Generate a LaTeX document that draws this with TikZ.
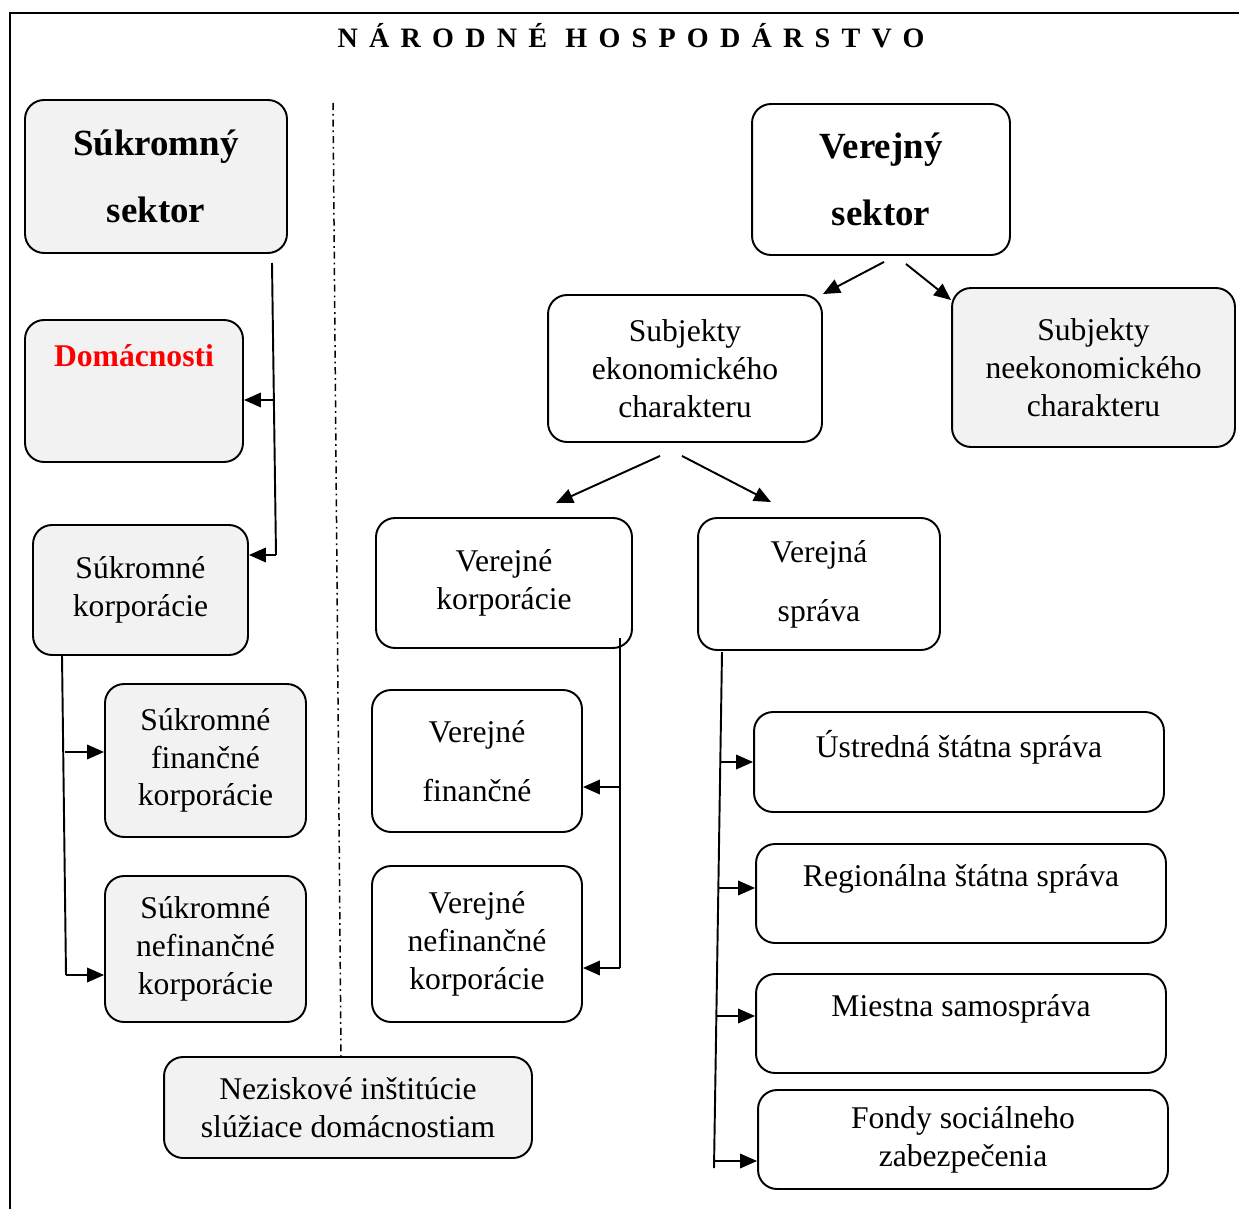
\documentclass[tikz,border=0pt]{standalone}
\usepackage{fontspec}
\setmainfont{Liberation Serif}
\usetikzlibrary{arrows.meta, calc}
\definecolor{sivaplocha}{HTML}{F2F2F2}

\begin{document}
\begin{tikzpicture}[x=0.02cm, y=-0.02cm,
                ram/.style={draw, line width=1.1pt, rounded corners=0.38cm, align=center, inner sep=0pt,
                                font=\fontsize{18}{21.5}\selectfont},
                sivy/.style={ram, fill=sivaplocha},
                hlavny/.style={font=\fontsize{21}{38}\selectfont\bfseries},
                hore/.style={label={[anchor=center, yshift=-0.72cm, font=\fontsize{18}{21.5}\selectfont]north:#1}},
                sipka/.style={line width=1.1pt, -{Triangle[length=0.34cm, width=0.29cm]}},
                ciara/.style={line width=1.1pt}]
        \useasboundingbox (0,0) rectangle (1239,1209);
        \draw[line width=1.4pt] (10,1209) -- (10,13) -- (1239,13);
        \node[font=\fontsize{16}{18}\selectfont\bfseries\addfontfeature{LetterSpace=40}] (nazov) at (631,36) {NÁRODNÉ HOSPODÁRSTVO};

        % sukromny sektor
        \node[sivy, hlavny, minimum width=5.24cm, minimum height=3.06cm] (sukromny) at (156,176.5) {Súkromný\\sektor};
        \node[sivy, minimum width=4.36cm, minimum height=2.84cm,
                label={[anchor=center, yshift=-0.74cm, text=red, font=\fontsize{18}{21.5}\selectfont\bfseries]north:Domácnosti}] (domacnosti) at (134,391) {};
        \node[sivy, minimum width=4.30cm, minimum height=2.60cm] (skorp) at (140.5,590) {Súkromné\\korporácie};
        \node[sivy, minimum width=4.02cm, minimum height=3.06cm] (sfin) at (205.5,760.5) {Súkromné\\finančné\\korporácie};
        \node[sivy, minimum width=4.02cm, minimum height=2.92cm] (snefin) at (205.5,949) {Súkromné\\nefinančné\\korporácie};
        \node[sivy, minimum width=7.36cm, minimum height=2.02cm] (nezisk) at (348,1107.5) {Neziskové inštitúcie\\slúžiace domácnostiam};

        % verejny sektor
        \node[ram, hlavny, minimum width=5.16cm, minimum height=3.02cm] (verejny) at (881,179.5) {Verejný\\sektor};
        \node[ram, minimum width=5.48cm, minimum height=2.94cm] (sek) at (685,368.5) {Subjekty\\ekonomického\\charakteru};
        \node[sivy, minimum width=5.66cm, minimum height=3.18cm] (snek) at (1093.5,367.5) {Subjekty\\neekonomického\\charakteru};
        \node[ram, minimum width=5.12cm, minimum height=2.60cm] (vkorp) at (504,583) {Verejné\\korporácie};
        \node[ram, minimum width=4.84cm, minimum height=2.64cm] (vsprava) at (819,584) {Verejná\\[12pt]správa};
        \node[ram, minimum width=4.20cm, minimum height=2.84cm] (vfin) at (477,761) {Verejné\\[12pt]finančné};
        \node[ram, minimum width=4.20cm, minimum height=3.12cm] (vnefin) at (477,944) {Verejné\\nefinančné\\korporácie};
        \node[ram, hore={Ústredná štátna správa}, minimum width=8.20cm, minimum height=2.00cm] (ustredna) at (959,762) {};
        \node[ram, hore={Regionálna štátna správa}, minimum width=8.20cm, minimum height=1.98cm] (regionalna) at (961,893.5) {};
        \node[ram, hore={Miestna samospráva}, minimum width=8.20cm, minimum height=1.98cm] (miestna) at (961,1023.5) {};
        \node[ram, minimum width=8.20cm, minimum height=1.98cm] (fondy) at (963,1139.5) {Fondy sociálneho\\zabezpečenia};

        % deliaca ciara
        \coordinate (d1) at (333,103);
        \coordinate (d2) at (341,1057);
        \draw[line width=0.85pt, dash pattern=on 4pt off 2.2pt on 1pt off 2.2pt] (d1) -- (d2);

        \coordinate (a1) at (272,263);
        \coordinate (a2) at (276,555);
        \coordinate (a3) at (275,400);
        \draw[ciara] (a1) -- (a2);
        \draw[sipka] (a3) -- (a3 -| domacnosti.east);
        \draw[sipka] (a2) -- (a2 -| skorp.east);

        \coordinate (b1) at (62,655);
        \coordinate (b2) at (66,975);
        \coordinate (b3) at (65,752);
        \draw[ciara] (b1) -- (b2);
        \draw[sipka] (b3) -- (b3 -| sfin.west);
        \draw[sipka] (b2) -- (b2 -| snefin.west);

        \draw[sipka] ($(verejny.south)+(3,6)$) -- (sek.north east);
        \draw[sipka] ($(verejny.south)+(25,8)$) -- ($(snek.north west)+(0,13)$);
        \draw[sipka] ($(sek.south)+(-25,13)$) -- ($(vkorp.north)+(52,-14)$);
        \draw[sipka] ($(sek.south)+(-3,13)$) -- ($(vsprava.north)+(-48,-15)$);

        \coordinate (c1) at (620,638);
        \coordinate (c2) at (620,968);
        \coordinate (c3) at (620,787);
        \draw[ciara] (c1) -- (c2);
        \draw[sipka] (c3) -- (c3 -| vfin.east);
        \draw[sipka] (c2) -- (c2 -| vnefin.east);

        \coordinate (e1) at (722,652);
        \coordinate (e2) at (714,1168);
        \draw[ciara] (e1) -- (e2);
        \foreach \y/\ciel in {762/ustredna, 888/regionalna, 1016/miestna, 1161/fondy} {
                \coordinate (e) at ({722-8*(\y-652)/516},\y);
                \draw[sipka] (e) -- (e -| \ciel.west);
            }
    \end{tikzpicture}
\end{document}
